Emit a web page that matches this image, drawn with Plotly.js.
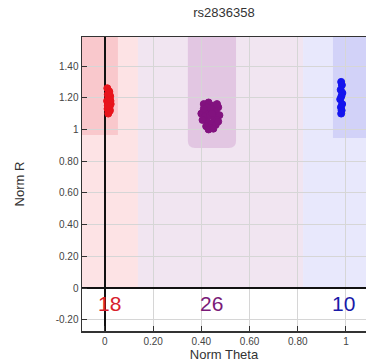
<!DOCTYPE html>
<html><head><meta charset="utf-8">
<script src="https://cdn.plot.ly/plotly-3.0.1.min.js"></script>
<style>html,body{margin:0;padding:0;background:#fff}#c{width:366px;height:363px}</style>
</head><body><div id="c"></div>
<script>
var chartTitle = "rs2836358";
var xTickVals = [0, 0.2, 0.4, 0.6, 0.8, 1];
var xTickText = ["0", "0.20", "0.40", "0.60", "0.80", "1"];
var yTickVals = [-0.2, 0, 0.2, 0.4, 0.6, 0.8, 1, 1.2, 1.4];
var yTickText = ["-0.20", "0", "0.20", "0.40", "0.60", "0.80", "1", "1.20", "1.40"];

var redX = [0.010,0.018,0.012,0.022,0.015,0.020,0.009,0.017,0.024,0.013,0.019,0.011,0.021,0.016,0.014,0.023,0.018,0.012];
var redY = [1.26,1.24,1.22,1.21,1.20,1.19,1.18,1.17,1.16,1.15,1.14,1.13,1.12,1.11,1.10,1.18,1.23,1.15];
var purpleX = [0.41,0.43,0.45,0.47,0.42,0.44,0.46,0.40,0.415,0.435,0.455,0.475,0.425,0.445,0.465,0.405,0.42,0.44,0.46,0.43,0.45,0.47,0.425,0.445,0.41,0.465];
var purpleY = [1.16,1.17,1.15,1.14,1.12,1.13,1.11,1.10,1.08,1.09,1.07,1.09,1.05,1.04,1.06,1.06,1.02,1.01,1.03,1.00,1.005,1.05,1.14,1.10,1.13,1.16];
var blueX = [0.980,0.983,0.978,0.985,0.981,0.976,0.984,0.979,0.982,0.980];
var blueY = [1.30,1.28,1.25,1.23,1.21,1.19,1.16,1.14,1.12,1.10];

var clusterCounts = [18, 26, 10];
var countX = [0.017, 0.444, 0.988];
var countY = -0.095;

// genotype zones (theta boundaries) and cluster boxes [x0, x1, yBottom]
var zoneBounds = [-0.095, 0.137, 0.822, 1.2];
var redBox = [-0.095, 0.054, 0.965];
var purpleBox = [0.344, 0.544, 0.883];
var blueBox = [0.946, 1.2, 0.946];

var colRed = "#e8141c", colPurple = "#82127f", colBlue = "#1414ee";
var zoneFill = ["#fde3e5", "#f1e5f1", "#e8e8fc"];
var boxFill = ["#f9c8cc", "#e2c6e2", "#d2d2f8"];
var yTop = 1.583;

function mk(x, y, c) {
  return {x: x, y: y, type: "scatter", mode: "markers", hoverinfo: "skip",
    marker: {color: c, size: 7, line: {color: c, width: 1}}};
}
var data = [mk(redX, redY, colRed), mk(purpleX, purpleY, colPurple), mk(blueX, blueY, colBlue)];

var shapes = [];
for (var i = 0; i < 3; i++) {
  shapes.push({type: "rect", layer: "below", xref: "x", yref: "y",
    x0: zoneBounds[i], x1: zoneBounds[i + 1], y0: 0, y1: yTop,
    line: {width: 0}, fillcolor: zoneFill[i]});
}
shapes.push({type: "rect", layer: "below", x0: redBox[0], x1: redBox[1], y0: redBox[2], y1: yTop,
  line: {width: 0}, fillcolor: boxFill[0]});
var r = 0.03, ry = 0.045;
var p = purpleBox;
shapes.push({type: "path", layer: "below",
  path: "M " + p[0] + "," + yTop + " L " + p[0] + "," + (p[2] + ry) +
    " Q " + p[0] + "," + p[2] + " " + (p[0] + r) + "," + p[2] +
    " L " + (p[1] - r) + "," + p[2] +
    " Q " + p[1] + "," + p[2] + " " + p[1] + "," + (p[2] + ry) +
    " L " + p[1] + "," + yTop + " Z",
  line: {width: 0}, fillcolor: boxFill[1]});
shapes.push({type: "rect", layer: "below", x0: blueBox[0], x1: blueBox[1], y0: blueBox[2], y1: yTop,
  line: {width: 0}, fillcolor: boxFill[2]});

var countColors = ["#d8202c", "#7a1a78", "#1a1aa8"];
var annotations = clusterCounts.map(function (n, i) {
  return {x: countX[i], y: countY, xref: "x", yref: "y", text: String(n), showarrow: false,
    font: {size: 21, color: countColors[i], family: "Liberation Sans, Arial, sans-serif"}};
});

var layout = {
  width: 366, height: 363,
  margin: {l: 82, r: 0, t: 37, b: 32},
  paper_bgcolor: "#fff", plot_bgcolor: "#fff",
  showlegend: false,
  font: {family: "Liberation Sans, Arial, sans-serif", color: "#444"},
  title: {text: chartTitle, x: 0.5, xref: "paper", y: 0.965, yanchor: "middle",
    font: {size: 13, color: "#333"}},
  xaxis: {range: [-0.095, 1.083], tickvals: xTickVals, ticktext: xTickText,
    ticks: "inside", ticklen: 5, tickcolor: "#333", tickfont: {size: 10, color: "#444"},
    showgrid: true, gridcolor: "#d6d6d6", gridwidth: 1,
    zeroline: true, zerolinecolor: "#111", zerolinewidth: 1.5,
    showline: true, linecolor: "#333", linewidth: 1.5, mirror: true,
    title: {text: "Norm Theta", font: {size: 13, color: "#333"}, standoff: 4}},
  yaxis: {range: [-0.271, 1.583], tickvals: yTickVals, ticktext: yTickText,
    ticks: "inside", ticklen: 5, tickcolor: "#333", tickfont: {size: 10, color: "#444"},
    showgrid: true, gridcolor: "#d6d6d6", gridwidth: 1,
    zeroline: true, zerolinecolor: "#111", zerolinewidth: 1.5,
    showline: true, linecolor: "#333", linewidth: 1.5, mirror: false,
    title: {text: "Norm R", font: {size: 13, color: "#333"}, standoff: 28}},
  shapes: shapes,
  annotations: annotations
};
Plotly.newPlot("c", data, layout, {staticPlot: true, displayModeBar: false});
</script></body></html>
